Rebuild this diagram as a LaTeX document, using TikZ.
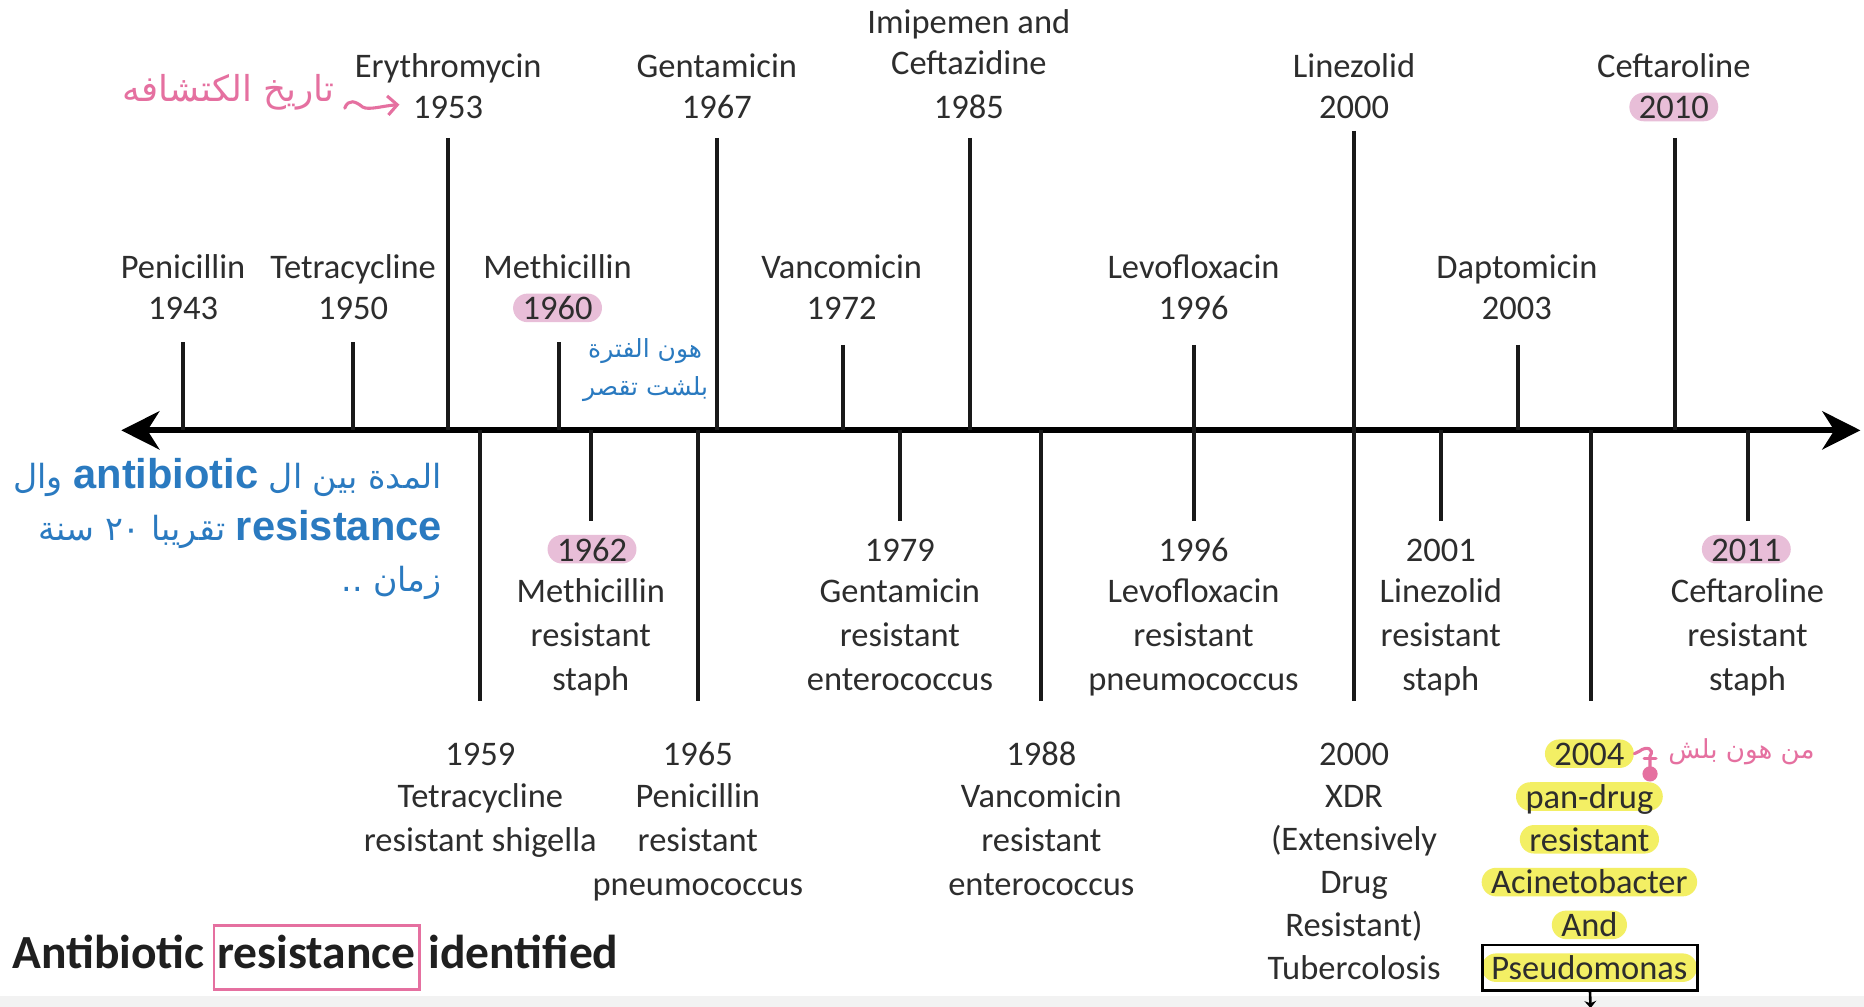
\documentclass[tikz,border=0pt]{standalone}
\usepackage{fontspec}
\setmainfont{Carlito}
\newfontfamily\arabicfont[Script=Arabic]{DejaVu Sans}
\newfontfamily\latinsans{Liberation Sans}
\TeXXeTstate=1
\usetikzlibrary{arrows.meta}
\definecolor{txtgray}{RGB}{45,45,45}
\definecolor{hlpink}{RGB}{232,190,216}
\definecolor{hlyellow}{RGB}{243,239,100}
\definecolor{annpink}{RGB}{229,112,160}
\definecolor{annblue}{RGB}{42,122,192}
\newcommand{\engbold}[1]{\beginL{\fontsize{17.5}{21}\latinsans\bfseries #1}\endL{}}
\begin{document}
\begin{tikzpicture}[x=0.5pt,y=-0.5pt,
  lbl/.style={font=\fontsize{14.5}{17}\selectfont, text=txtgray, inner sep=0pt, text height=10pt, text depth=0pt},
  hl/.style={lbl, inner xsep=4pt, inner ysep=1pt, rounded corners=6pt},
  pinkhl/.style={hl, fill=hlpink},
  yelhl/.style={hl, fill=hlyellow},
  tickline/.style={line width=1.7pt, black!90},
  axisline/.style={line width=2.6pt, black, {Stealth[length=16pt,width=16pt,inset=5pt]}-{Stealth[length=16pt,width=16pt,inset=5pt]}},
  bluetxt/.style={font=\fontsize{14}{21}\arabicfont, text=annblue, inner sep=0pt},
  annpen/.style={annpink, line width=1.3pt, line cap=round}
]
\useasboundingbox (0,0) rectangle (1568,847);
\fill[white] (0,0) rectangle (1568,847);
\fill[black!5] (0,838) rectangle (1568,847);

% ---------- axis ----------
\coordinate (axL) at (102,362);
\coordinate (axR) at (1565,362);
\draw[axisline] (axL) -- (axR);

% ---------- upper ticks (discovery) ----------
\coordinate (u1943) at (154,288);
\coordinate (u1950) at (297,288);
\coordinate (u1953) at (377,116);
\coordinate (u1960) at (470,288);
\coordinate (u1967) at (603,116);
\coordinate (u1972) at (709,290);
\coordinate (u1985) at (816,116);
\coordinate (u1996) at (1004,290);
\coordinate (u2000) at (1139,110);
\coordinate (u2003) at (1277,290);
\coordinate (u2010) at (1409,116);
\foreach \c in {u1943,u1950,u1953,u1960,u1967,u1972,u1985,u1996,u2000,u2003,u2010}
  \draw[tickline] (\c) -- (\c |- axL);

% ---------- lower ticks (resistance) ----------
\coordinate (r1959) at (404,590);
\coordinate (r1962) at (497,438);
\coordinate (r1965) at (587,590);
\coordinate (r1979) at (757,438);
\coordinate (r1988) at (876,590);
\coordinate (r1996) at (1004,438);
\coordinate (r2000) at (1139,590);
\coordinate (r2001) at (1212,438);
\coordinate (r2004) at (1338,590);
\coordinate (r2011) at (1470,438);
\foreach \c in {r1959,r1962,r1965,r1979,r1988,r1996,r2000,r2001,r2004,r2011}
  \draw[tickline] (\c |- axL) -- (\c);

% ---------- upper labels ----------
\node[lbl] (n1943) at (154,224) {Penicillin};
\node[lbl] (y1943) at (154,259) {1943};
\node[lbl] (n1950) at (297,224) {Tetracycline};
\node[lbl] (y1950) at (297,259) {1950};
\node[lbl] (n1953) at (377,55) {Erythromycin};
\node[lbl] (y1953) at (377,90) {1953};
\node[lbl] (n1960) at (469,224) {Methicillin};
\node[pinkhl] (y1960) at (469,259) {1960};
\node[lbl] (n1967) at (603,55) {Gentamicin};
\node[lbl] (y1967) at (603,90) {1967};
\node[lbl] (n1972) at (708,224) {Vancomicin};
\node[lbl] (y1972) at (708,259) {1972};
\node[lbl] (n1985a) at (815,18) {Imipemen and};
\node[lbl] (n1985b) at (815,53) {Ceftazidine};
\node[lbl] (y1985) at (815,90) {1985};
\node[lbl] (n1996) at (1004,224) {Levofloxacin};
\node[lbl] (y1996) at (1004,259) {1996};
\node[lbl] (n2000) at (1139,55) {Linezolid};
\node[lbl] (y2000) at (1139,90) {2000};
\node[lbl] (n2003) at (1276,224) {Daptomicin};
\node[lbl] (y2003) at (1276,259) {2003};
\node[lbl] (n2010) at (1408,55) {Ceftaroline};
\node[pinkhl] (y2010) at (1408,90) {2010};

% ---------- lower labels ----------
\node[lbl] (z1959) at (404,634) {1959};
\foreach \t [count=\i from 0] in {Tetracycline, resistant shigella}
  \node[lbl] (d1959-\i) at (404,669+37*\i) {\t};
\node[pinkhl] (z1962) at (498,462) {1962};
\foreach \t [count=\i from 0] in {Methicillin, resistant, staph}
  \node[lbl] (d1962-\i) at (497,497+37*\i) {\t};
\node[lbl] (z1965) at (587,634) {1965};
\foreach \t [count=\i from 0] in {Penicillin, resistant, pneumococcus}
  \node[lbl] (d1965-\i) at (587,669+37*\i) {\t};
\node[lbl] (z1979) at (757,462) {1979};
\foreach \t [count=\i from 0] in {Gentamicin, resistant, enterococcus}
  \node[lbl] (d1979-\i) at (757,497+37*\i) {\t};
\node[lbl] (z1988) at (876,634) {1988};
\foreach \t [count=\i from 0] in {Vancomicin, resistant, enterococcus}
  \node[lbl] (d1988-\i) at (876,669+37*\i) {\t};
\node[lbl] (z1996) at (1004,462) {1996};
\foreach \t [count=\i from 0] in {Levofloxacin, resistant, pneumococcus}
  \node[lbl] (d1996-\i) at (1004,497+37*\i) {\t};
\node[lbl] (z2000) at (1139,634) {2000};
\foreach \t [count=\i from 0] in {XDR, {(Extensively}, Drug, {Resistant)}, Tubercolosis}
  \node[lbl] (d2000-\i) at (1139,669+36.2*\i) {\t};
\node[lbl] (z2001) at (1212,462) {2001};
\foreach \t [count=\i from 0] in {Linezolid, resistant, staph}
  \node[lbl] (d2001-\i) at (1212,497+37*\i) {\t};
\foreach \t [count=\i from 0] in {2004, pan-drug, resistant, Acinetobacter, And, Pseudomonas}
  \node[yelhl] (h2004-\i) at (1337,634+36*\i) {\t};
\node[pinkhl] (z2011) at (1469,462) {2011};
\foreach \t [count=\i from 0] in {Ceftaroline, resistant, staph}
  \node[lbl] (d2011-\i) at (1470,497+37*\i) {\t};

% box around Pseudomonas and the small arrow below it
\node[draw=black, line width=1.1pt, minimum width=90.5pt, minimum height=19pt, inner sep=0pt] (pbox) at (1337.5,814) {};
\coordinate (pend) at (1338,848);
\draw[line width=1.1pt, -{Stealth[length=3pt,width=5pt]}] (pbox.south) -- (pend);

% ---------- title ----------
\setlength{\fboxsep}{1pt}\setlength{\fboxrule}{1.1pt}
\node[anchor=base west, inner sep=0pt, font=\fontsize{20}{24}\selectfont\bfseries, text=black!88] (title) at (10,815)
  {Antibiotic\,\fcolorbox{annpink}{white}{\strut resistance}\,identified};

% ---------- handwritten annotations ----------
\node[font=\fontsize{15}{18}\arabicfont, text=annpink, inner sep=0pt, anchor=east] (pinkA) at (282,78)
  {\beginR تاريخ الكتشافه\endR};
\coordinate (sqA) at (290,91);
\coordinate (sqB) at (336,88);
\draw[annpen, -{Straight Barb[length=4pt,width=8pt]}] (sqA) .. controls (293,83) and (299,85) .. (305,90) .. controls (310,93) and (322,89) .. (sqB);

\node[bluetxt, font=\fontsize{10.5}{13}\arabicfont, anchor=east] (blA) at (591,295) {\beginR هون الفترة\endR};
\node[bluetxt, font=\fontsize{10.5}{13}\arabicfont, anchor=east] (blB) at (596,327) {\beginR بلشت تقصر\endR};

\node[bluetxt, anchor=east] (bl1) at (372,402)
  {\beginR المدة بين ال \engbold{antibiotic} وال\endR};
\node[bluetxt, anchor=east] (bl2) at (372,445)
  {\beginR\engbold{resistance} تقريبا \beginL ٢٠\endL{} سنة\endR};
\node[bluetxt, anchor=east] (bl3) at (372,490)
  {\beginR زمان ..\endR};

\node[font=\fontsize{11}{14}\arabicfont, text=annpink, inner sep=0pt, anchor=west] (pinkB) at (1403,632)
  {\beginR من هون بلش\endR};
\draw[annpen] (h2004-0.east) -- (1379,632) .. controls (1385,627) and (1392,630) .. (1388,636) -- (1388,648);
\draw[annpen] (1383,638) -- (1393,638);
\fill[annpink] (1388,651) circle (3.2pt);
\end{tikzpicture}
\end{document}
